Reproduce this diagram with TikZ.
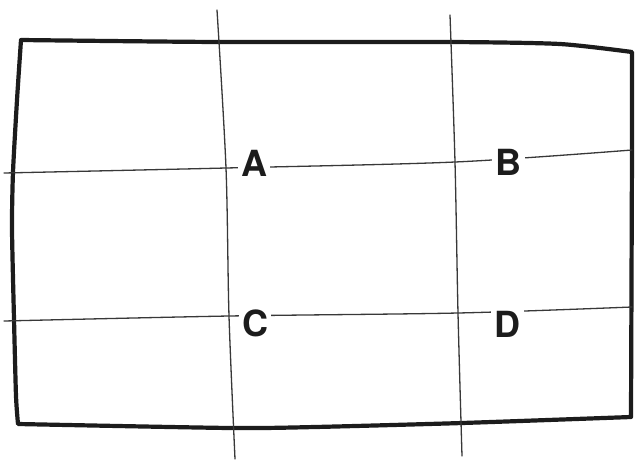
\documentclass[tikz,border=0pt]{standalone}
\usepackage{fontspec}
\setmainfont{TeX Gyre Heros}
\usepackage{tikz}
\usetikzlibrary{positioning}

\definecolor{pencil}{HTML}{1C1C1C}
\definecolor{inkgray}{HTML}{383838}

\tikzset{
	framestroke/.style={line width=4.2pt, pencil, line join=round, line cap=round},
	thirdline/.style={line width=1.3pt, inkgray, line cap=round},
	thirdlabel/.style={fill=white, text=pencil, inner sep=3.5pt,
		font=\fontsize{36}{36}\selectfont\bfseries, text height=26pt, text depth=0pt}
}

\begin{document}
\begin{tikzpicture}[x=1pt, y=-1pt]
	\useasboundingbox[fill=white] (0,0) rectangle (635,459);
	
	% Frame
	\draw[framestroke] plot[smooth, tension=0.4] coordinates {(21,40) (218,42) (450,42) (560,44) (632,52)}
		-- (632,150) -- (631,417)
		-- plot[smooth, tension=0.4] coordinates {(631,417) (462,423) (315,427) (230,428) (18,424)}
		-- plot[smooth, tension=0.4] coordinates {(18,424) (16,396) (14,319) (12,229) (13,172) (17,100) (21,40)};
	
	% Thirds, vertical
	\draw[thirdline] plot[smooth] coordinates {(217,10) (226,168) (229,316) (235,459)};
	\draw[thirdline] plot[smooth] coordinates {(450,15) (455,162) (458,313) (462,456)};
	
	% Thirds, horizontal
	\draw[thirdline] plot[smooth] coordinates {(4,173) (226,168) (455,162) (632,150)};
	\draw[thirdline] plot[smooth] coordinates {(4,321) (229,316) (458,313) (632,307)};
	
	% Power points
	\foreach \name/\x/\y in {A/254/163, B/508/162, C/255/323, D/507/324} {
		\node[thirdlabel] (\name) at (\x,\y) {\name};
	}
\end{tikzpicture}
\end{document}
